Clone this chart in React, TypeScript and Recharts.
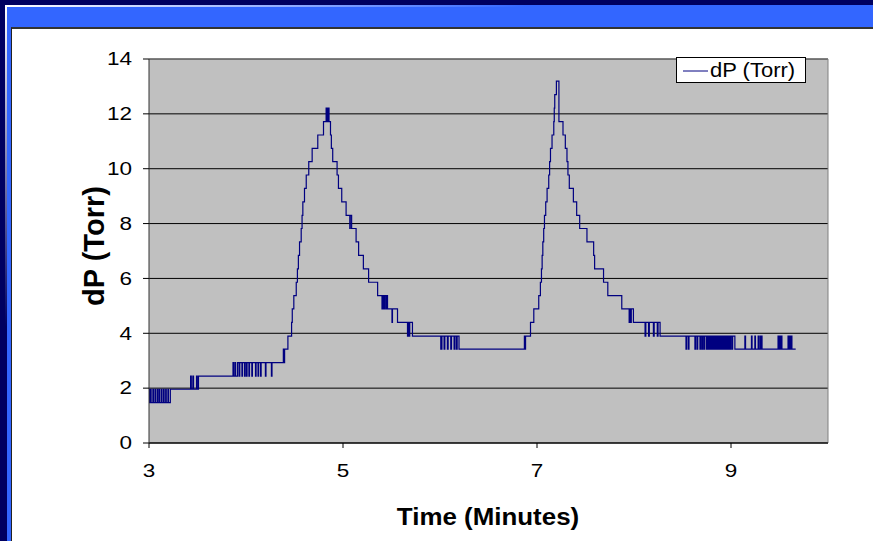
import React from 'react';
import { LineChart, Line, XAxis, YAxis, CartesianGrid, Legend, ReferenceLine } from 'recharts';

// sample times (minutes) and pressure drop readings (Torr), one reading holds until the next
const timeMin = [
  3.000, 3.006, 3.016, 3.022, 3.040, 3.046, 3.062, 3.068, 3.085, 3.091, 3.105, 3.111, 3.128, 3.134,
  3.150, 3.156, 3.172, 3.178, 3.195, 3.201, 3.220,
  3.429, 3.436, 3.452, 3.459, 3.490, 3.497, 3.510,
  3.866, 3.872, 3.886, 3.892, 3.912, 3.928, 3.936, 3.958, 3.964, 3.985, 3.991, 4.005, 4.011, 4.030,
  4.036, 4.060, 4.066, 4.098, 4.104, 4.124, 4.130, 4.150, 4.156, 4.200, 4.206, 4.262, 4.268,
  4.385, 4.390, 4.398,
  4.432, 4.470, 4.477, 4.493, 4.518, 4.530, 4.540, 4.552, 4.569, 4.578, 4.586, 4.603, 4.621, 4.647,
  4.682, 4.740, 4.799, 4.826, 4.832, 4.838, 4.845, 4.850, 4.856, 4.871, 4.880, 4.894, 4.939, 4.953,
  4.987, 5.032, 5.070, 5.075, 5.089, 5.135, 5.161, 5.210, 5.264, 5.357, 5.402, 5.408, 5.420, 5.427,
  5.440, 5.447, 5.459, 5.505, 5.510, 5.562, 5.665, 5.671, 5.682, 5.688, 5.716,
  6.008, 6.020, 6.042, 6.050, 6.076, 6.084, 6.111, 6.119, 6.145, 6.153, 6.169, 6.177, 6.196,
  6.870, 6.876, 6.882, 6.933, 6.967, 7.018, 7.035, 7.046, 7.053, 7.060, 7.069, 7.077, 7.090, 7.104,
  7.121, 7.130, 7.139, 7.155, 7.173, 7.178, 7.183, 7.200, 7.226, 7.268, 7.292, 7.309, 7.319, 7.333,
  7.375, 7.409, 7.440, 7.515, 7.584, 7.594, 7.686, 7.730, 7.874, 7.950, 7.956, 7.966, 7.972, 7.994,
  8.114, 8.122, 8.150, 8.158, 8.200, 8.208, 8.240, 8.248, 8.269,
  8.536, 8.543, 8.560, 8.567, 8.628, 8.635, 8.650, 8.657, 8.680, 8.687, 8.700, 8.707, 8.720, 8.727,
  8.745, 8.752, 8.762, 8.769, 8.780, 8.787, 8.797, 8.804, 8.815, 8.822, 8.832, 8.839, 8.850, 8.857,
  8.867, 8.874, 8.885, 8.892, 8.902, 8.909, 8.920, 8.927, 8.937, 8.944, 8.955, 8.962, 8.972, 8.979,
  8.990, 8.997, 9.010, 9.017, 9.040,
  9.143, 9.150, 9.211, 9.217, 9.246, 9.252, 9.280, 9.286, 9.300, 9.306, 9.314, 9.320,
  9.485, 9.491, 9.502, 9.508, 9.519, 9.525, 9.588, 9.594, 9.605, 9.611, 9.622, 9.628, 9.667,
];

const dpTorr = [
  1.96, 1.47, 1.96, 1.47, 1.96, 1.47, 1.96, 1.47, 1.96, 1.47, 1.96, 1.47, 1.96, 1.47,
  1.96, 1.47, 1.96, 1.47, 1.96, 1.47, 1.96,
  2.44, 1.96, 2.44, 1.96, 2.44, 1.96, 2.44,
  2.93, 2.44, 2.93, 2.44, 2.93, 2.44, 2.93, 2.44, 2.93, 2.44, 2.93, 2.44, 2.93, 2.44,
  2.93, 2.44, 2.93, 2.44, 2.93, 2.44, 2.93, 2.44, 2.93, 2.44, 2.93, 2.44, 2.93,
  3.42, 2.93, 3.42,
  3.90, 4.40, 4.89, 5.37, 5.86, 6.35, 6.84, 7.33, 7.82, 8.30, 8.79, 9.28, 9.77, 10.26,
  10.74, 11.23, 11.72, 12.21, 11.72, 12.21, 11.72, 12.21, 11.72, 11.23, 10.74, 10.26, 9.77, 9.28,
  8.79, 8.30, 7.82, 8.30, 7.82, 7.33, 6.84, 6.35, 5.86, 5.37, 4.89, 5.37, 4.89, 5.37,
  4.89, 5.37, 4.89, 4.40, 4.89, 4.40, 3.90, 4.40, 3.90, 4.40, 3.90,
  3.42, 3.90, 3.42, 3.90, 3.42, 3.90, 3.42, 3.90, 3.42, 3.90, 3.42, 3.90, 3.42,
  3.90, 3.42, 3.90, 4.40, 4.89, 5.37, 5.86, 6.35, 6.84, 7.33, 7.82, 8.30, 8.79, 9.28,
  9.77, 10.26, 10.74, 11.23, 11.72, 12.21, 12.70, 13.19, 11.72, 11.23, 10.74, 10.26, 9.77, 9.28,
  8.79, 8.30, 7.82, 7.33, 6.84, 6.35, 5.86, 5.37, 4.89, 4.40, 4.89, 4.40, 4.89, 4.40,
  3.90, 4.40, 3.90, 4.40, 3.90, 4.40, 3.90, 4.40, 3.90,
  3.42, 3.90, 3.42, 3.90, 3.42, 3.90, 3.42, 3.90, 3.42, 3.90, 3.42, 3.90, 3.42, 3.90,
  3.42, 3.90, 3.42, 3.90, 3.42, 3.90, 3.42, 3.90, 3.42, 3.90, 3.42, 3.90, 3.42, 3.90,
  3.42, 3.90, 3.42, 3.90, 3.42, 3.90, 3.42, 3.90, 3.42, 3.90, 3.42, 3.90, 3.42, 3.90,
  3.42, 3.90, 3.42, 3.90, 3.42,
  3.90, 3.42, 3.90, 3.42, 3.90, 3.42, 3.90, 3.42, 3.90, 3.42, 3.90, 3.42,
  3.90, 3.42, 3.90, 3.42, 3.90, 3.42, 3.90, 3.42, 3.90, 3.42, 3.90, 3.42, 3.42,
];

const xTicks = [3, 5, 7, 9];
const yTicks = [0, 2, 4, 6, 8, 10, 12, 14];
const seriesName = 'dP (Torr)';
const xTitle = 'Time (Minutes)';
const yTitle = 'dP (Torr)';

const FONT = 'Arial, "Liberation Sans", sans-serif';
const SX = 1.25; // the slide was stretched sideways, text with it
const NAVY = '#000080';

const chartData = timeMin.map((t, i) => ({ t, dp: dpTorr[i] }));

const YTick = (props: any) => {
  const { x, y, payload } = props;
  return (
    <text transform={`translate(${x},${y}) scale(${SX},1)`} textAnchor="end" dy="0.35em"
      fontSize={18} fontFamily={FONT} fill="#000">
      {payload.value}
    </text>
  );
};

const XTick = (props: any) => {
  const { x, y, payload } = props;
  return (
    <text transform={`translate(${x},${y}) scale(${SX},1)`} textAnchor="middle" dy="0.71em"
      fontSize={18} fontFamily={FONT} fill="#000">
      {payload.value}
    </text>
  );
};

const XTitle = () => (
  <text transform="translate(488,525) scale(1.08,1)" textAnchor="middle"
    fontSize={24} fontWeight="bold" fontFamily={FONT} fill="#000">
    {xTitle}
  </text>
);

const YTitle = () => (
  <text transform="translate(104,246) rotate(-90)" textAnchor="middle"
    fontSize={29} fontWeight="bold" fontFamily={FONT} fill="#000">
    {yTitle}
  </text>
);

const LegendBox = () => (
  <div style={{
    width: 128, height: 24, border: '1px solid #000', background: '#fff',
    display: 'flex', alignItems: 'center', boxSizing: 'content-box',
  }}>
    <svg width={31} height={24} style={{ flex: 'none' }}>
      <line x1={6} x2={31} y1={13} y2={13} stroke={NAVY} strokeWidth={1} />
    </svg>
    <span style={{
      fontFamily: FONT, fontSize: 20, lineHeight: '24px', color: '#000', marginLeft: 2,
      display: 'inline-block', transform: 'scaleX(1.1)', transformOrigin: 'left center', whiteSpace: 'nowrap',
    }}>
      {seriesName}
    </span>
  </div>
);

export default function App() {
  return (
    <div style={{ position: 'fixed', left: 0, top: 0, width: 873, height: 541, background: '#000060', overflow: 'hidden' }}>
      <div style={{ position: 'absolute', left: 5, top: 5, width: 868, height: 2, background: 'linear-gradient(to right, #ffffff, #3366ff 60%)' }} />
      <div style={{ position: 'absolute', left: 5, top: 5, width: 2, height: 536, background: 'linear-gradient(to bottom, #ffffff, #000060 60%)' }} />
      <div style={{ position: 'absolute', left: 7, top: 7, right: 0, bottom: 0, background: '#3366ff' }} />
      <div style={{ position: 'absolute', left: 11, top: 27, right: 0, bottom: 0, background: '#ffffff', borderTop: '2px solid #333', borderLeft: '1px solid #222' }} />
      <div style={{ position: 'absolute', left: 0, top: 0 }}>
        <LineChart width={873} height={541} data={chartData} margin={{ top: 59, right: 45, left: 89, bottom: 68 }}>
          <CartesianGrid vertical={false} fill="#c0c0c0" stroke="#000" strokeOpacity={1} />
          <XAxis
            dataKey="t"
            type="number"
            domain={[3, 10]}
            ticks={xTicks}
            height={30}
            tickSize={5}
            tickMargin={16}
            axisLine={{ stroke: '#000' }}
            tickLine={{ stroke: '#000' }}
            tick={<XTick />}
            label={<XTitle />}
          />
          <YAxis
            type="number"
            domain={[0, 14]}
            ticks={yTicks}
            width={60}
            tickSize={6}
            tickMargin={11}
            axisLine={{ stroke: '#333' }}
            tickLine={{ stroke: '#000' }}
            tick={<YTick />}
            label={<YTitle />}
          />
          <ReferenceLine x={10} stroke="#808080" />
          <ReferenceLine y={14} stroke="#808080" />
          <Legend
            layout="horizontal"
            verticalAlign="middle"
            align="center"
            content={<LegendBox />}
            wrapperStyle={{ position: 'absolute', left: 676, top: 57, width: 130, height: 26 }}
          />
          <Line
            type="stepAfter"
            dataKey="dp"
            name={seriesName}
            stroke={NAVY}
            strokeWidth={1.2}
            dot={false}
            activeDot={false}
            isAnimationActive={false}
          />
        </LineChart>
      </div>
    </div>
  );
}
